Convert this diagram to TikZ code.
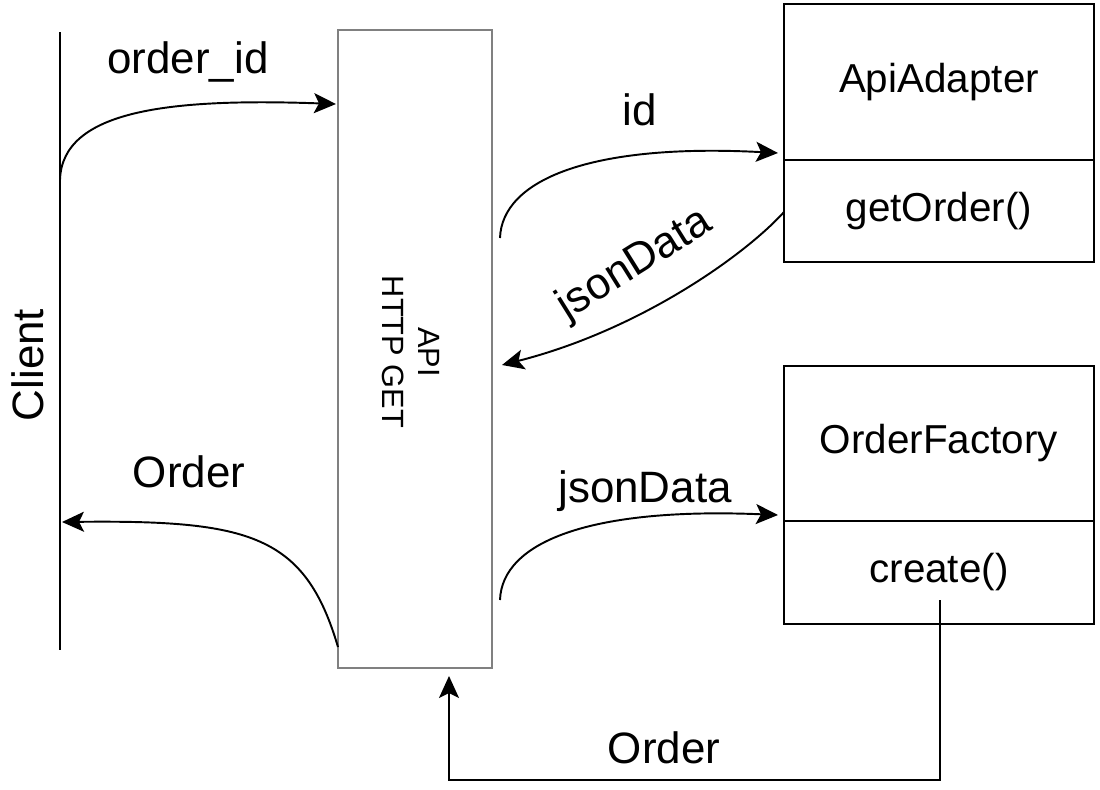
\documentclass[tikz,border=0pt]{standalone}
\usepackage{fontspec}
\setmainfont{Liberation Sans}
\usetikzlibrary{arrows.meta}
\tikzset{
  flow/.style={line width=1.1pt, -{Stealth[length=0.44cm,width=0.4cm,inset=0.1cm]}},
  classbox/.style={draw, line width=1.1pt, minimum width=6.2cm, inner sep=0pt, outer sep=0pt, font=\fontsize{23}{28}\selectfont},
  msg/.style={font=\fontsize{25}{30}\selectfont},
}
\begin{document}
\begin{tikzpicture}[x=0.02cm, y=-0.02cm]
            \useasboundingbox (0,0) rectangle (1100,789);
            % client lifeline
            \coordinate (cltop) at (60,32);
            \coordinate (clbot) at (60,650);
            \draw[line width=1.1pt] (cltop) -- (clbot);
            \node (client) [msg, rotate=90] at (28,365) {Client};
            % api box
            \node (api) [draw=gray, line width=1.2pt, minimum width=3.08cm, minimum height=12.76cm] at (415,349) {};
            \node (apitext) [rotate=-90, align=center, font=\fontsize{17.5}{20.5}\selectfont] at (411,352) {API\\HTTP GET};
            % classes
            \node (adapter) [classbox, minimum height=3.12cm] at (939,82) {ApiAdapter};
            \node (getorder) [classbox, minimum height=2.04cm, anchor=north] at (adapter.south) {getOrder()};
            \node (factory) [classbox, minimum height=3.1cm] at (939,443.5) {OrderFactory};
            \node (create) [classbox, minimum height=2.06cm, anchor=north] at (factory.south) {create()};
            % connector ends
            \coordinate (cl_out) at (60,180);
            \coordinate (api_in) at (336,104);
            \coordinate (api_idout) at (500,238);
            \coordinate (adp_in) at (778,153);
            \coordinate (adp_out) at (784,212);
            \coordinate (api_jin) at (502,365);
            \coordinate (api_oout) at (338,647);
            \coordinate (cl_in) at (62,522);
            \coordinate (api_jout) at (500,600);
            \coordinate (fac_in) at (778,515);
            \coordinate (fac_out) at (940,600);
            \coordinate (api_oin) at (449,676);
            % messages
            \draw[flow] (cl_out) .. controls (62,110) and (170,98) .. (api_in);
            \node (lbloid) [msg, anchor=base] at (188,73) {order\_id};
            \draw[flow] (api_idout) .. controls (502,180) and (590,143) .. (adp_in);
            \node (lblid) [msg, anchor=base] at (640,125) {id};
            \draw[flow] (adp_out) .. controls (745,255) and (640,330) .. (api_jin);
            \node (lbljson1) [msg, rotate=32] at (635,265) {jsonData};
            \draw[flow] (api_oout) .. controls (305,535) and (250,520) .. (cl_in);
            \node (lblorder1) [msg, anchor=base] at (189,487) {Order};
            \draw[flow] (api_jout) .. controls (502,542) and (590,507) .. (fac_in);
            \node (lbljson2) [msg, anchor=base] at (645,502) {jsonData};
            \draw[flow] (fac_out) -- ++(0,180) -| (api_oin);
            \node (lblorder2) [msg, anchor=base] at (664,763) {Order};
\end{tikzpicture}
\end{document}
